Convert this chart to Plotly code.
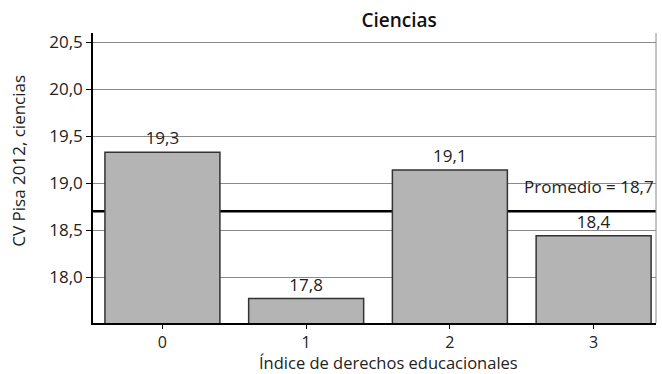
import plotly.graph_objects as go

# Índice de derechos educacionales (0-3) y coeficiente de variación Pisa 2012
categorias = [0, 1, 2, 3]
cv_ciencias = [19.33, 17.77, 19.14, 18.44]
promedio = 18.7
y_ticks = [18.0, 18.5, 19.0, 19.5, 20.0, 20.5]

FONT = "Open Sans"
SIZE = 17
etiquetas = [f"{v:.1f}".replace(".", ",") for v in cv_ciencias]

fig = go.Figure()
fig.add_trace(go.Bar(
    x=categorias,
    y=cv_ciencias,
    width=0.8,
    marker=dict(color="#b4b4b4", line=dict(color="#333333", width=1.5)),
    text=etiquetas,
    textposition="outside",
    textfont=dict(family=FONT, size=SIZE, color="#222222"),
    cliponaxis=False,
    hoverinfo="skip",
))

# Línea del promedio, detrás de las barras
fig.add_shape(type="line", xref="paper", x0=0, x1=1, yref="y", y0=promedio, y1=promedio,
              line=dict(color="black", width=2.5), layer="below")
# Borde derecho del área del gráfico
fig.add_shape(type="line", xref="paper", x0=1, x1=1, yref="paper", y0=0, y1=1,
              line=dict(color="#888888", width=1))

fig.add_annotation(
    xref="paper", x=1.0, yref="y", y=promedio + 0.12,
    text=f"Promedio = {promedio:.1f}".replace(".", ","),
    showarrow=False, xanchor="right", yanchor="bottom",
    font=dict(family=FONT, size=SIZE, color="#222222"),
)

# Títulos de los ejes
fig.add_annotation(
    xref="paper", x=0.524, yref="paper", y=-0.18,
    text="Índice de derechos educacionales",
    showarrow=False, xanchor="center", yanchor="bottom", borderpad=0,
    font=dict(family=FONT, size=16.5, color="#222222"),
)
fig.add_annotation(
    xref="paper", x=-0.133, yref="paper", y=0.56,
    text="CV Pisa 2012, ciencias", textangle=-90,
    showarrow=False, xanchor="center", yanchor="middle",
    font=dict(family=FONT, size=SIZE, color="#222222"),
)

fig.update_layout(
    width=662, height=374,
    margin=dict(l=93, r=6, t=33, b=51),
    paper_bgcolor="white", plot_bgcolor="white",
    separators=",.",
    showlegend=False,
    title=dict(text="Ciencias", x=0.603, xanchor="center", y=0.945, yanchor="middle",
               font=dict(family=FONT, size=19, color="#111111", weight=600)),
    font=dict(family=FONT, size=SIZE, color="#222222"),
    bargap=0.2,
)
fig.update_xaxes(
    range=[-0.483, 3.434],
    tickvals=categorias, ticktext=[str(c) for c in categorias],
    ticks="outside", ticklen=4, tickcolor="black",
    showline=True, linecolor="black", linewidth=1.5,
    showgrid=False, zeroline=False,
    tickfont=dict(family=FONT, size=16),
)
fig.update_yaxes(
    range=[17.51, 20.6],
    tickvals=y_ticks, tickformat=".1f",
    ticks="outside", ticklen=5, tickcolor="black",
    showline=True, linecolor="black", linewidth=1.5,
    showgrid=True, gridcolor="#8a8a8a", gridwidth=1,
    zeroline=False,
    tickfont=dict(family=FONT, size=SIZE),
)

fig.write_html("out.html")
